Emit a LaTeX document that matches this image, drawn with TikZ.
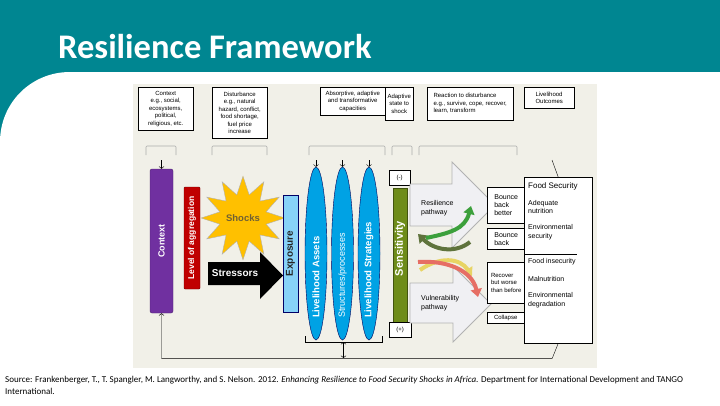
\documentclass[tikz,border=0pt]{standalone}
\usepackage{fontspec}
\usepackage{graphicx}
\setmainfont{Liberation Sans}
\newfontfamily\slidefont{Carlito}
\usetikzlibrary{positioning,arrows.meta,shapes.geometric,shapes}
\definecolor{slideteal}{RGB}{0,134,145}
\definecolor{panelbg}{RGB}{241,240,232}
\definecolor{ctxpurple}{RGB}{112,48,160}
\definecolor{aggred}{RGB}{192,0,0}
\definecolor{shockyellow}{RGB}{255,192,0}
\definecolor{expblue}{RGB}{135,210,248}
\definecolor{lhblue}{RGB}{0,162,228}
\definecolor{sensgreen}{RGB}{110,140,25}
\definecolor{pathgray}{RGB}{240,240,243}
\definecolor{swgreen}{RGB}{60,160,60}
\definecolor{swolive}{RGB}{95,115,60}
\definecolor{swyellow}{RGB}{232,212,100}
\definecolor{swred}{RGB}{230,110,100}
\tikzset{
    every node/.style={
        font=\fontsize{6}{7.5}\selectfont
    },
    topbox/.style={
        shape=rectangle,
        draw,
        fill=white,
        anchor=north west,
        align=center,
        inner sep=1pt
    },
    bracket/.style={
        draw=gray!65,
        line width=0.6pt,
        rounded corners=1pt
    },
    bar/.style={
        shape=rectangle,
        rounded corners=2pt,
        text=white,
        inner sep=0pt
    },
    lhood/.style={
        shape=ellipse,
        fill=lhblue,
        draw=blue!35!black,
        minimum width=22pt,
        minimum height=173pt,
        inner sep=0pt
    },
    lhtext/.style={
        anchor=south,
        inner sep=0pt,
        text=white,
        font=\bfseries\fontsize{9.5}{10}\selectfont
    },
    pathway/.style={
        fill=pathgray,
        draw=gray!60,
        line width=0.8pt
    },
    swoop/.style={
        line width=4pt,
        -{Triangle[width=11pt,length=8pt]}
    },
    foodtext/.style={
        anchor=west,
        align=left,
        inner sep=0pt,
        font=\fontsize{7}{8.5}\selectfont
    }
}
\tikzstyle{outbox} = [rectangle, draw, fill=white, anchor=north west, align=left, inner sep=2.5pt]

\begin{document}
\begin{tikzpicture}
		[x=1pt, y=-1pt]
		\useasboundingbox (0,0) rectangle (720,405);
		% Slide
		\fill[slideteal] (0,0) rectangle (720,142);
		\fill[white] (0,405) -- (0,142) .. controls (0,103) and (31,72) .. (70,72) -- (720,72) -- (720,405) -- cycle;
		\node (title) at (58,58) [anchor=base west, inner sep=0pt, text=white, font=\slidefont\bfseries\fontsize{34.5}{38}\selectfont] {Resilience Framework};
		\fill[panelbg] (133,84) rectangle (597,368);
		% Top boxes
		\node (ctxbox) at (138,87) [topbox, minimum width=55pt, minimum height=43pt] {Context\\e.g., social,\\ecosystems,\\political,\\religious, etc.};
		\node (distbox) at (212,87) [topbox, minimum width=55pt, minimum height=51pt] {Disturbance\\e.g., natural\\hazard, conflict,\\food shortage,\\fuel price\\increase};
		\node (capbox) at (320,87) [topbox, minimum width=65pt, minimum height=28pt] {Absorptive, adaptive\\and transformative\\capacities};
		\node (statebox) at (385,87) [topbox, minimum width=28pt, minimum height=33pt] {Adaptive\\state to\\shock};
		\node (reactbox) at (427,87) [topbox, align=left, inner xsep=3pt, minimum width=86pt, minimum height=33pt] {Reaction to disturbance\\e.g., survive, cope, recover,\\learn, transform};
		\node (outbox) at (524,87) [topbox, align=left, inner xsep=4pt, minimum width=50pt, minimum height=21pt] {Livelihood\\Outcomes};
		\foreach \a/\b in {146/176, 212/267, 309/385, 392/412, 419/517}
			\draw[bracket] (\a,155) -- (\a,146) -- (\b,146) -- (\b,155);
		% Bars and stresses
		\node (context) at (161.5,241) [bar, fill=ctxpurple, draw=ctxpurple!70!black, minimum width=23pt, minimum height=144pt, font=\bfseries\fontsize{9}{9}\selectfont] {\rotatebox{90}{Context}};
		\node (aggr) at (192,238) [bar, rounded corners=1pt, fill=aggred, draw=aggred!60!black, minimum width=16pt, minimum height=102pt, font=\bfseries\fontsize{8.5}{8.5}\selectfont] {\rotatebox{90}{Level of aggregation}};
		\node (shocks) at (243,218) [star, star points=12, star point ratio=1.75, minimum size=66pt, inner sep=0pt, fill=shockyellow, draw=gray!60, text=black!60!shockyellow!60!gray, font=\bfseries\fontsize{9.5}{10}\selectfont] {Shocks};
		\fill[black] (208,262) -- (260,262) -- (260,252) -- (283,275.5) -- (260,299) -- (260,285) -- (208,285) -- cycle;
		\node (stressors) at (235,273.5) [text=white, font=\bfseries\fontsize{10}{10}\selectfont] {Stressors};
		\node (exposure) at (290.5,253.5) [bar, rounded corners=0pt, fill=expblue, draw=blue!40!black, text=black!85, minimum width=15pt, minimum height=117pt, font=\bfseries\fontsize{10}{10}\selectfont] {\rotatebox{90}{Exposure}};
		\node (assets) at (316,253.5) [lhood] {};
		\node (process) at (342.5,253.5) [lhood] {};
		\node (strat) at (369,253.5) [lhood] {};
		\node (assets txt) at (316,318) [lhtext] {\rotatebox{90}{Livelihood Assets}};
		\node (process txt) at (342.5,318) [lhtext, font=\fontsize{9}{9}\selectfont] {\rotatebox{90}{Structures/processes}};
		\node (strat txt) at (369,318) [lhtext] {\rotatebox{90}{Livelihood Strategies}};
		\node (minus) at (389,170) [topbox, minimum width=21pt, minimum height=15pt] {(-)};
		\node (sens) at (400,259) [bar, rounded corners=0pt, fill=sensgreen, draw=sensgreen!60!black, minimum width=14pt, minimum height=142pt] {};
		\node (sens txt) at (400,248.5) [text=white, inner sep=0pt, font=\bfseries\fontsize{11}{11}\selectfont] {\rotatebox{90}{Sensitivity}};
		\node (plus) at (389,322) [topbox, minimum width=22pt, minimum height=15pt] {(+)};
		% Pathways
		\draw[pathway] (410,184) -- (452,184) -- (452,162) -- (495,205) -- (452,248) -- (452,226) -- (410,226) -- cycle;
		\draw[pathway] (410,283) -- (453,283) -- (453,266) -- (491,304) -- (453,342) -- (453,323) -- (410,323) -- cycle;
		\node (respath) at (421,208) [anchor=west, align=left, inner sep=0pt, font=\fontsize{7}{9}\selectfont] {Resilience\\pathway};
		\node (vulpath) at (421,303) [anchor=west, align=left, inner sep=0pt, font=\fontsize{7}{9}\selectfont] {Vulnerability\\pathway};
		\draw[swoop, swolive] (470,242) .. controls (455,254) and (434,250) .. (418,234);
		\draw[swoop, swgreen] (426,238) .. controls (450,233) and (465,229) .. (471,206);
		\draw[swoop, swyellow] (420,270) .. controls (440,256) and (460,258) .. (472,276);
		\draw[swoop, swred] (418,262) .. controls (446,260) and (472,270) .. (478,297);
		% Outcomes
		\node (bbb) at (487,187) [outbox, minimum width=38pt, minimum height=36pt, font=\fontsize{7}{8}\selectfont] {Bounce\\back\\better};
		\node (bb) at (487,228) [outbox, minimum width=38pt, minimum height=21pt, font=\fontsize{7}{8}\selectfont] {Bounce\\back};
		\node (worse) at (487,262) [outbox, minimum width=38pt, minimum height=41pt] {Recover\\but worse\\than before};
		\node (collapse) at (487,312) [outbox, inner ysep=1pt, minimum width=37pt, minimum height=11pt] {Collapse};
		\node (food) at (524,177) [outbox, minimum width=68pt, minimum height=166pt] {};
		\node (fs) at (528,186) [foodtext, font=\fontsize{8}{9}\selectfont] {Food Security};
		\node (nutr) at (528,207) [foodtext] {Adequate\\nutrition};
		\node (envsec) at (528,232) [foodtext] {Environmental\\security};
		\draw (524,254) -- (577,254);
		\node (fi) at (528,262) [foodtext] {Food insecurity};
		\node (maln) at (528,279) [foodtext] {Malnutrition};
		\node (envdeg) at (528,300) [foodtext] {Environmental\\degradation};
		% Connectors
		\coordinate (ctx in) at (161.5,160);
		\coordinate (assets in) at (316,160);
		\coordinate (process in) at (342.5,160);
		\coordinate (strat in) at (369,160);
		\coordinate (lo in) at (552,160);
		\coordinate (brk) at (343.5,342);
		\coordinate (loop) at (343.5,358);
		\draw [->] (ctx in) -- (context.north);
		\draw [->] (assets in) -- (assets.north);
		\draw [->] (process in) -- (process.north);
		\draw [->] (strat in) -- (strat.north);
		\draw (lo in) -- (food.north);
		\draw (305,336) -- (305,342) -- (382,342) -- (382,336);
		\draw [<->] (brk) -- (loop);
		\draw [->] (food.south) -- ++(-6,15) -| (context.south);
		% Source
		\node (source) at (5,376) [anchor=north west, inner sep=0pt, align=left, font=\slidefont\fontsize{9}{12}\selectfont] {Source: Frankenberger, T., T. Spangler, M. Langworthy, and S. Nelson. 2012. \textit{Enhancing Resilience to Food Security Shocks in Africa}. Department for International Development and TANGO\\International.};
	\end{tikzpicture}
\end{document}
